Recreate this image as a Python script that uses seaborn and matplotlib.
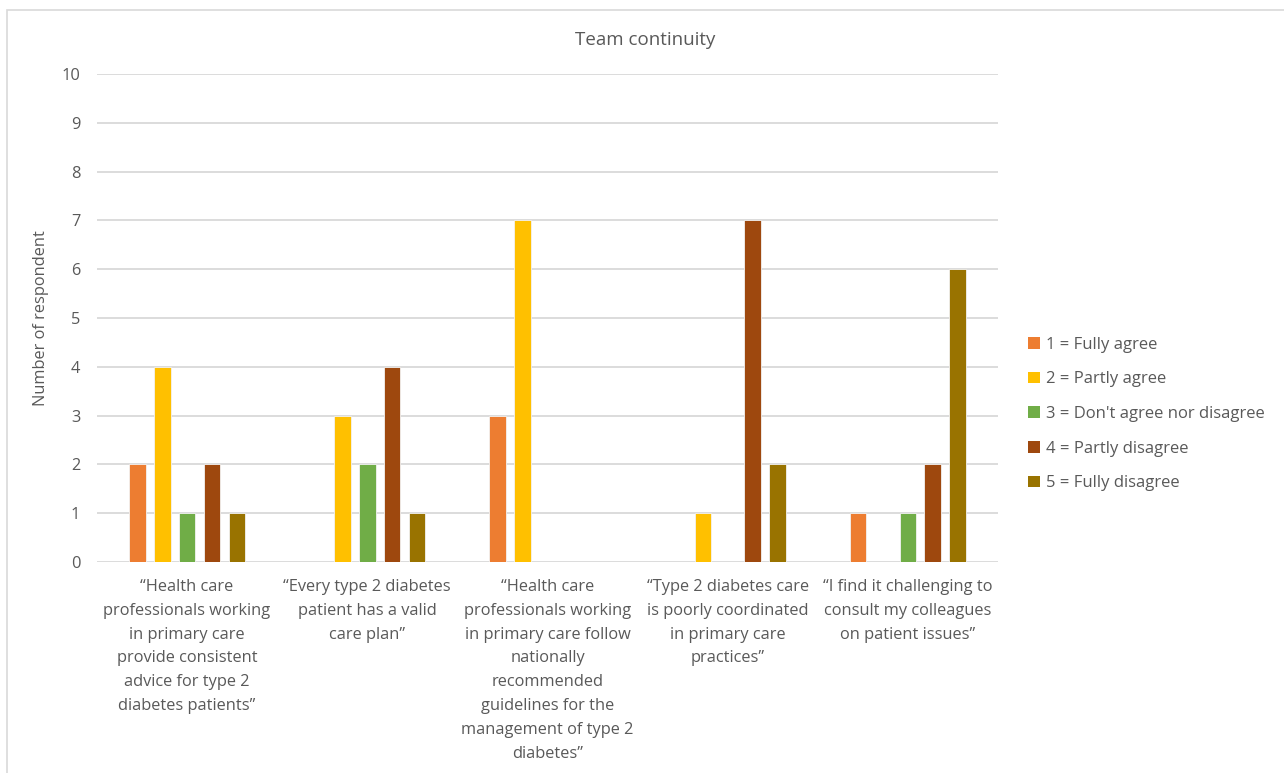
import matplotlib
matplotlib.use("Agg")
import matplotlib.pyplot as plt
from matplotlib.patches import Patch, Rectangle
import seaborn as sns
import pandas as pd

statements = [
    "“Health care\nprofessionals working\nin primary care\nprovide consistent\nadvice for type 2\ndiabetes patients”",
    "“Every type 2 diabetes\npatient has a valid\ncare plan”",
    "“Health care\nprofessionals working\nin primary care follow\nnationally\nrecommended\nguidelines for the\nmanagement of type 2\ndiabetes”",
    "“Type 2 diabetes care\nis poorly coordinated\nin primary care\npractices”",
    "“I find it challenging to\nconsult my colleagues\non patient issues”",
]
responses = [
    "1 = Fully agree",
    "2 = Partly agree",
    "3 = Don't agree nor disagree",
    "4 = Partly disagree",
    "5 = Fully disagree",
]
fully_agree = [2, 0, 3, 0, 1]
partly_agree = [4, 3, 7, 1, 0]
neutral = [1, 2, 0, 0, 1]
partly_disagree = [2, 4, 0, 7, 2]
fully_disagree = [1, 1, 0, 2, 6]
colors = ["#ED7D31", "#FFC000", "#70AD47", "#9E480E", "#997300"]

series = [fully_agree, partly_agree, neutral, partly_disagree, fully_disagree]
rows = []
for resp, vals in zip(responses, series):
    for st, v in zip(statements, vals):
        rows.append({"Statement": st, "Response": resp, "Count": v})
df = pd.DataFrame(rows)

sns.set_theme(style="white")
plt.rcParams["font.family"] = ["Open Sans", "DejaVu Sans"]
text_color = "#595959"

fig = plt.figure(figsize=(12.84, 7.73), dpi=100)
ax = fig.add_axes([97 / 1284, 1 - 562 / 773, 901 / 1284, 488 / 773])

sns.barplot(
    data=df, x="Statement", y="Count", hue="Response",
    order=statements, hue_order=responses, palette=colors,
    width=0.69, gap=0.33, ax=ax, legend=False,
    edgecolor="#F2F2F2", linewidth=0.6, saturation=1,
)

ax.set_ylim(0, 10)
ax.set_yticks(range(0, 11))
ax.yaxis.grid(True, color="#D9D9D9", linewidth=1.3)
ax.set_axisbelow(True)
for s in ax.spines.values():
    s.set_visible(False)
ax.tick_params(axis="y", length=0, pad=12, labelsize=11.8, labelcolor=text_color)
ax.tick_params(axis="x", length=0, pad=12, labelsize=11.8, labelcolor=text_color)
ax.set_xticks(range(len(statements)))
ax.set_xticklabels(statements, linespacing=1.66, va="top")
ax.set_xlabel("")
ax.set_ylabel("Number of respondent", fontsize=11.8, color=text_color, labelpad=9)

fig.text(645 / 1284, 1 - 40 / 773, "Team continuity", ha="center", va="center",
         fontsize=13.5, color=text_color)

handles = [Patch(facecolor=c, edgecolor="none") for c in colors]
fig.legend(handles, responses, loc="center left",
           bbox_to_anchor=(1013 / 1284, 1 - 414 / 773), frameon=False,
           fontsize=12, labelcolor=text_color, handlelength=0.7,
           handleheight=0.7, handletextpad=0.35, labelspacing=1.12)

fig.patches.append(Rectangle((7 / 1284, -0.1), 1.2, 1 - 10 / 773 + 0.1,
                             transform=fig.transFigure, fill=False,
                             edgecolor="#D9D9D9", linewidth=1.2))

fig.savefig("out.png", dpi=100)
